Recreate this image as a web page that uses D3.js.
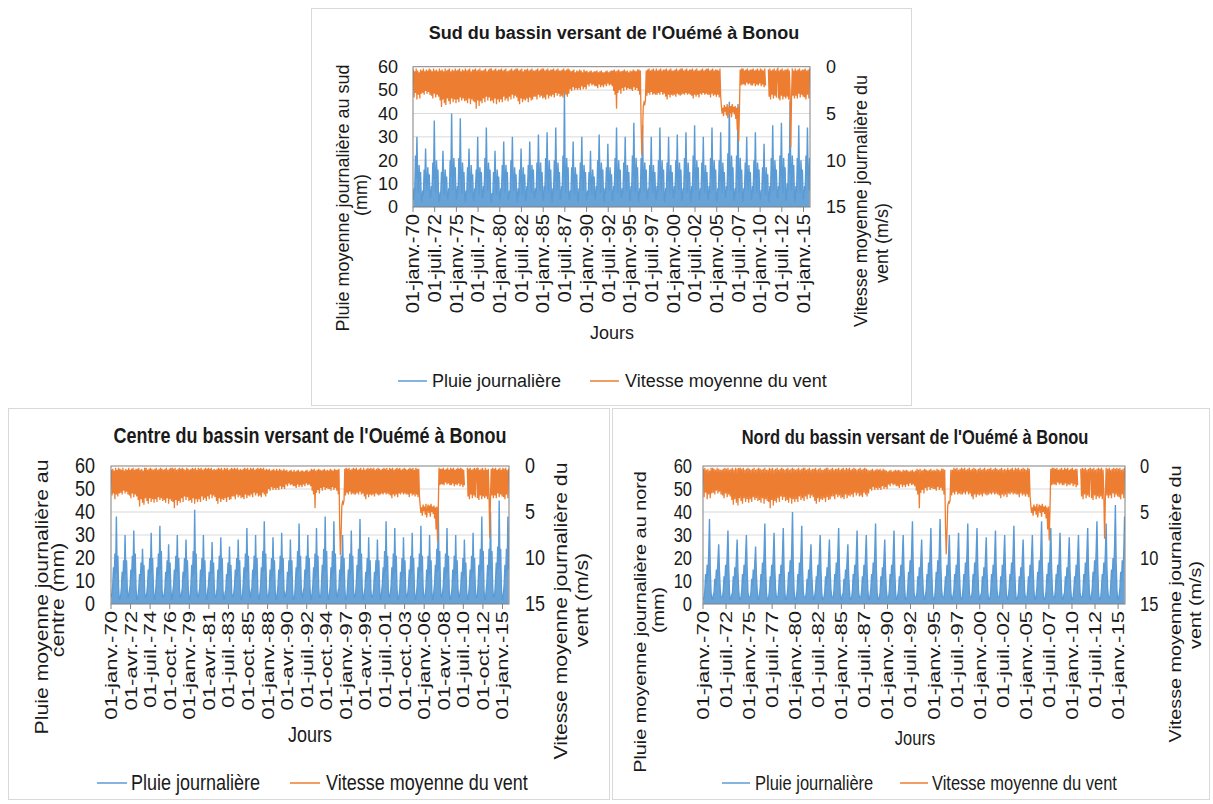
<!DOCTYPE html>
<html><head><meta charset="utf-8">
<script src="https://cdn.jsdelivr.net/npm/d3@7"></script>
<style>
body{margin:0;background:#fff;}
text{font-family:"Liberation Sans",Arial,sans-serif;fill:#1a1a1a;}
</style>
</head><body>
<svg id="c" width="1213" height="804"></svg>
<script>
// ---------- DATA (monthly readings, Jan 1970 – Sep 2015) ----------
const rainSud = [
3,8,6,22,12,30,13,6,18,11,15,3,
2,7,5,16,10,25,11,7,17,10,14,4,
4,9,7,19,12,37,12,6,20,12,16,3,
2,6,6,15,10,24,11,5,16,10,13,4,
3,8,7,20,13,40,13,7,21,13,17,3,
4,9,6,21,12,38,12,6,19,12,15,4,
2,7,6,17,11,25,11,6,18,11,14,3,
3,8,7,16,10,30,12,5,17,12,15,4,
4,9,6,21,12,34,13,7,19,11,16,3,
2,6,5,15,10,24,10,5,16,10,13,4,
3,8,7,18,11,28,12,6,18,12,15,3,
4,7,6,20,12,30,11,7,17,11,14,4,
2,8,5,16,10,25,11,5,17,10,14,3,
3,9,7,18,11,28,12,6,18,12,16,4,
4,8,6,19,12,31,13,7,19,11,15,3,
3,9,7,21,12,32,12,6,20,12,16,4,
2,8,6,20,11,34,13,7,19,11,15,3,
4,9,7,22,13,50,12,6,21,13,17,4,
3,7,6,17,10,28,11,5,17,10,14,3,
2,8,7,19,12,30,12,7,18,12,15,4,
3,7,5,15,10,24,10,5,16,10,13,3,
4,9,7,20,12,31,13,6,19,12,16,4,
2,8,6,17,11,27,11,7,17,11,14,3,
3,9,7,21,12,34,12,6,20,12,16,4,
4,8,6,19,11,30,12,7,18,11,15,3,
3,9,7,22,13,36,13,6,21,13,17,4,
2,8,6,21,12,35,12,7,19,12,16,3,
4,8,7,18,11,30,11,6,18,11,15,4,
3,9,6,20,12,34,13,7,20,12,16,3,
2,8,7,19,11,30,12,6,18,11,15,4,
4,9,6,20,12,31,12,7,19,12,16,3,
3,8,7,21,12,32,13,6,19,11,15,4,
2,9,6,22,13,35,12,7,20,12,17,3,
4,8,7,19,11,30,11,6,18,11,15,4,
3,9,6,21,12,34,13,7,20,12,16,3,
2,8,7,20,11,32,12,6,19,11,15,4,
4,9,7,23,13,45,13,7,22,13,17,3,
3,8,6,22,12,44,12,6,21,12,16,4,
2,8,7,19,11,30,12,7,18,11,15,3,
4,9,6,20,12,32,13,6,19,12,16,4,
3,7,7,17,10,27,11,5,17,10,14,3,
2,9,6,21,12,35,12,7,20,12,16,4,
4,9,7,22,13,36,13,6,21,13,17,3,
3,10,7,23,14,45,13,7,22,13,18,4,
2,9,6,21,12,35,12,6,20,12,16,3,
4,9,7,22,13,34,13,7,21];

const windSud = [
.3,3.3,.5,2.8,.2,3.5,.4,3.0,.6,3.4,.3,2.9,
.4,2.8,.2,3.0,.5,2.6,.3,2.9,.4,2.7,.2,3.0,
.3,3.1,.5,3.4,.2,2.9,.4,3.3,.3,3.0,.5,3.2,
.2,3.6,.4,4.3,.3,3.5,.5,3.9,.2,4.1,.4,3.4,
.3,3.7,.2,4.0,.5,3.4,.3,3.8,.4,3.5,.2,3.9,
.4,3.5,.3,3.8,.2,3.3,.5,3.6,.3,3.4,.4,3.7,
.2,3.6,.4,3.9,.3,3.4,.2,4.0,.5,3.5,.3,3.7,
.3,3.8,.2,4.5,.4,3.6,.3,4.2,.2,3.7,.4,3.9,
.4,3.4,.3,3.8,.2,3.2,.5,3.6,.3,3.3,.2,3.7,
.2,3.6,.4,3.9,.3,3.4,.2,4.0,.4,3.5,.3,3.8,
.3,3.5,.2,3.8,.4,3.2,.3,3.6,.2,3.4,.5,3.7,
.4,3.2,.3,3.5,.2,3.0,.4,3.4,.3,3.1,.2,3.3,
.2,3.7,.4,4.0,.3,3.4,.2,3.8,.5,3.5,.3,3.6,
.3,3.4,.2,3.8,.4,3.3,.3,3.6,.2,3.5,.4,3.2,
.4,3.2,.3,3.5,.2,3.0,.4,3.3,.3,3.1,.2,3.4,
.2,3.3,.4,3.5,.3,3.0,.2,3.4,.4,3.1,.3,3.2,
.3,3.0,.2,3.3,.4,2.8,.3,3.1,.2,2.9,.4,3.2,
.4,3.1,.3,3.3,.2,2.8,.4,3.0,.3,3.2,.2,2.9,
.3,2.4,.5,2.6,.4,2.2,.3,2.5,.6,2.3,.4,2.5,
.5,2.3,.3,2.5,.4,2.1,.6,2.4,.3,2.2,.5,2.4,
.4,1.9,.6,2.1,.5,1.8,.4,2.0,.6,1.9,.5,2.1,
.5,2.1,.4,2.3,.6,1.9,.5,2.2,.4,2.0,.6,2.2,
.6,1.9,.5,2.1,.4,1.8,.6,2.0,.5,1.9,.4,2.1,
.4,2.6,.3,3.0,.5,4.5,.4,2.8,.3,2.5,.5,2.9,
.5,2.3,.4,2.6,.3,2.2,.5,2.5,.4,2.3,.6,2.4,
.4,2.4,.5,2.6,.3,2.2,.4,2.5,.5,2.3,.3,2.6,
.3,3.0,.4,6.2,9.5,7.0,4.2,3.8,4.0,3.6,.4,3.1,
.3,2.8,.2,3.0,.4,2.7,.3,3.0,.2,2.9,.4,3.0,
.2,3.0,.4,2.8,.3,3.0,.2,2.7,.4,3.0,.3,2.9,
.3,3.2,.2,3.5,.4,3.0,.3,3.3,.2,3.0,.4,3.1,
.4,3.0,.3,3.2,.2,2.9,.4,3.0,.3,3.1,.2,3.0,
.2,2.9,.4,3.0,.3,2.8,.2,3.0,.4,2.9,.3,3.0,
.3,3.1,.2,3.4,.4,3.0,.3,3.2,.2,3.0,.4,3.3,
.4,2.9,.3,3.0,.2,2.8,.4,3.0,.3,2.9,.2,3.0,
.2,3.0,.4,3.3,.3,2.9,.2,3.1,.4,3.0,.3,3.2,
.3,3.0,.4,3.3,.2,3.1,4.2,5.0,4.4,5.3,4.1,4.8,
4.3,5.2,4.0,5.5,4.6,4.1,5.0,4.2,5.4,4.0,4.9,4.3,
5.1,4.2,5.6,4.4,6.8,4.3,8.0,4.5,.3,2.0,.2,1.9,
.2,1.9,.4,2.0,.3,1.7,.2,1.9,.4,1.8,.3,2.0,
.3,2.0,.2,1.8,.4,2.1,.3,1.9,.2,2.0,.4,1.8,
.2,2.1,.3,1.9,.4,2.2,.2,2.0,null,null,null,.3,
3.2,.2,3.5,.4,3.0,.3,3.4,.2,3.1,.4,3.3,.3,
.2,3.4,.4,3.6,.3,3.1,.2,3.5,.4,3.2,.3,3.4,
.3,3.2,.2,3.5,.4,3.0,8.6,3.3,.2,3.1,.4,3.4,
.2,3.1,.4,3.4,.3,2.9,.2,3.3,.4,3.0,.3,3.2,
.3,3.3,.2,3.5,.4,3.0,.3,3.4,.2];

const rainCentre = [
3,5,8,16,11,22,13,38,14,21,7,2,
2,4,7,14,10,19,12,30,13,19,6,3,
3,6,8,15,11,21,14,32,13,22,7,2,
2,4,7,13,10,18,12,24,14,17,5,3,
3,5,8,15,11,20,13,31,14,20,7,2,
2,5,9,16,12,22,13,34,15,23,6,3,
3,4,7,14,10,19,12,26,13,18,7,2,
2,6,8,15,11,21,14,30,13,20,6,3,
3,5,7,14,11,20,12,28,14,19,7,2,
2,4,9,17,12,23,13,41,15,22,6,3,
3,5,7,15,10,20,12,30,14,19,6,2,
2,6,8,14,10,19,13,27,13,18,7,3,
3,4,7,15,11,21,13,29,14,20,6,2,
2,5,6,13,10,18,12,25,12,17,5,3,
3,5,8,15,11,20,12,28,14,19,7,2,
2,4,9,16,11,22,14,33,14,21,7,3,
3,6,7,15,10,21,12,30,13,20,6,2,
2,5,8,16,12,23,14,36,15,22,7,3,
3,4,7,15,10,20,12,29,14,19,6,2,
2,5,8,15,11,21,13,31,14,20,7,3,
3,5,6,14,10,19,12,28,13,19,6,2,
2,4,9,16,12,23,14,35,15,21,6,3,
3,6,7,15,11,21,13,30,14,20,7,2,
2,5,8,16,11,22,12,33,14,21,7,3,
3,4,9,17,12,24,14,38,15,23,6,2,
2,5,8,16,11,23,13,36,14,22,6,3,
3,6,7,15,10,21,12,30,13,20,7,2,
2,4,8,15,11,22,13,32,14,21,6,3,
3,5,9,17,12,24,14,37,15,22,7,2,
2,5,7,14,10,20,12,29,13,19,6,3,
3,4,7,14,10,19,12,28,13,19,7,2,
2,6,9,16,12,23,14,36,15,21,6,3,
3,5,8,16,11,22,13,33,14,21,7,2,
2,4,7,14,10,20,12,29,13,19,6,3,
3,5,8,15,11,21,13,31,14,20,6,2,
2,5,8,16,11,22,14,34,14,21,7,3,
3,4,7,15,10,21,12,30,13,19,6,2,
2,6,9,17,12,24,14,42,15,23,7,3,
3,5,8,16,11,22,13,33,14,21,6,2,
2,4,7,15,10,21,12,30,13,19,7,3,
3,5,7,14,10,20,12,28,13,18,6,2,
2,5,8,15,11,21,13,31,14,20,7,3,
3,4,9,17,12,24,14,38,15,23,6,2,
2,6,9,17,12,24,15,40,15,23,7,3,
3,5,10,18,13,25,15,45,16,24,7,2,
2,5,9,17,12,24,14,38,15];

const windCentre = [
.4,3.2,.3,3.0,.5,3.6,.2,3.1,.4,3.3,.2,3.0,
.3,2.9,.4,3.1,.2,2.7,.5,3.0,.3,2.8,.4,3.1,
.2,3.2,.4,3.5,.3,3.0,.2,3.4,.4,3.1,.3,3.3,
.3,3.7,.2,4.4,.4,3.6,.3,4.0,.5,4.2,.2,3.5,
.2,3.8,.4,4.1,.3,3.5,.2,3.9,.3,3.6,.4,4.0,
.3,3.6,.2,3.9,.4,3.4,.3,3.7,.2,3.5,.3,3.8,
.4,3.7,.3,4.0,.2,3.5,.4,4.1,.3,3.6,.2,3.8,
.2,3.9,.3,4.6,.2,3.7,.4,4.3,.3,3.8,.2,4.0,
.3,3.5,.2,3.9,.3,3.3,.4,3.7,.2,3.4,.3,3.8,
.4,3.7,.3,4.0,.2,3.5,.3,4.1,.2,3.6,.4,3.9,
.2,3.6,.3,3.9,.2,3.3,.4,3.7,.3,3.5,.2,3.8,
.3,3.3,.2,3.6,.3,3.1,.2,3.5,.4,3.2,.3,3.4,
.4,3.8,.3,4.1,.2,3.5,.3,3.9,.2,3.6,.4,3.7,
.2,3.5,.3,3.9,.2,3.4,.4,3.7,.3,3.6,.2,3.3,
.3,3.3,.2,3.6,.3,3.1,.2,3.4,.4,3.2,.3,3.5,
.4,3.4,.3,3.6,.2,3.1,.3,3.5,.2,3.2,.4,3.3,
.2,3.1,.3,3.4,.2,2.9,.4,3.2,.3,3.0,.2,3.3,
.3,3.2,.2,3.4,.3,2.9,.2,3.1,.4,3.3,.3,3.0,
.4,2.5,.3,2.7,.5,2.3,.4,2.6,.3,2.4,.5,2.6,
.3,2.4,.5,2.6,.3,2.2,.4,2.5,.5,2.3,.3,2.5,
.5,2.0,.4,2.2,.6,1.9,.5,2.1,.4,2.0,.6,2.2,
.4,2.2,.6,2.4,.5,2.0,.4,2.3,.6,2.1,.5,2.3,
.5,2.0,.6,2.2,.5,1.9,.4,2.1,.6,2.0,.5,2.2,
.3,2.7,.4,3.1,.3,4.6,.5,2.9,.4,2.6,.3,3.0,
.4,2.4,.5,2.7,.4,2.3,.3,2.6,.5,2.4,.4,2.5,
.5,2.5,.3,2.7,.4,2.3,.5,2.6,.3,2.4,.4,2.7,
.4,3.1,.3,6.5,9.7,7.2,4.3,3.9,4.1,3.7,.3,3.2,
.2,2.9,.3,3.1,.2,2.8,.4,3.1,.3,3.0,.2,3.1,
.3,3.1,.2,2.9,.4,3.1,.3,2.8,.2,3.1,.4,3.0,
.2,3.3,.4,3.6,.3,3.1,.2,3.4,.3,3.1,.2,3.2,
.3,3.1,.2,3.3,.4,3.0,.3,3.1,.2,3.2,.3,3.1,
.4,3.0,.3,3.1,.2,2.9,.3,3.1,.2,3.0,.4,3.1,
.2,3.2,.3,3.5,.2,3.1,.4,3.3,.3,3.1,.2,3.4,
.3,3.0,.2,3.1,.4,2.9,.3,3.1,.2,3.0,.3,3.1,
.4,3.1,.3,3.4,.2,3.0,.3,3.2,.2,3.1,.4,3.3,
.2,3.1,.3,3.4,.3,3.2,4.3,5.1,4.5,5.4,4.2,4.9,
4.4,5.3,4.1,5.6,4.7,4.2,5.1,4.3,5.5,4.1,5.0,4.4,
5.2,4.3,5.7,4.5,6.9,4.4,8.2,4.6,.2,2.1,.3,2.0,
.3,2.0,.2,2.1,.4,1.8,.3,2.0,.2,1.9,.4,2.1,
.2,2.1,.3,1.9,.2,2.2,.4,2.0,.3,2.1,.2,1.9,
.3,2.2,.2,2.0,.3,2.3,.4,2.1,null,null,null,.2,
3.3,.3,3.6,.2,3.1,.4,3.5,.3,3.2,.2,3.4,.4,
.3,3.5,.2,3.7,.4,3.2,.3,3.6,.2,3.3,.4,3.5,
.2,3.3,.4,3.6,.3,3.1,7.8,3.4,.3,3.2,.2,3.5,
.3,3.2,.2,3.5,.4,3.0,.3,3.4,.2,3.1,.4,3.3,
.2,3.4,.3,3.6,.2,3.1,.4,3.5,.3];

const rainNord = [
2,3,6,13,9,17,12,22,37,15,5,2,
2,4,5,11,8,15,11,19,26,14,6,3,
3,3,6,12,9,17,12,21,32,16,5,2,
2,4,5,12,8,16,11,20,28,14,6,2,
2,3,6,13,9,17,12,21,30,15,5,3,
3,3,5,11,8,15,10,18,25,13,6,2,
2,4,7,13,10,18,13,22,35,16,5,2,
2,3,6,12,9,17,12,21,31,15,6,3,
3,3,6,13,9,17,12,22,33,15,5,2,
2,4,7,14,10,19,13,23,40,17,6,2,
2,3,6,13,9,18,12,22,34,16,5,3,
3,3,5,11,8,15,11,19,26,13,6,2,
2,4,6,12,9,17,12,21,30,15,5,2,
2,3,5,12,8,16,11,20,28,14,6,3,
3,3,6,13,10,18,12,22,33,16,5,2,
2,4,5,11,8,15,11,19,26,13,6,2,
2,3,6,13,9,17,12,21,32,15,5,3,
3,3,6,12,9,17,12,21,30,15,6,2,
2,4,7,13,10,18,13,22,35,16,5,2,
2,3,5,12,8,16,11,20,28,14,6,3,
3,3,6,13,9,17,12,21,32,15,5,2,
2,4,6,12,9,17,12,21,30,15,6,2,
2,3,7,14,10,19,13,23,36,17,5,3,
3,3,5,12,8,16,11,20,28,14,6,2,
2,4,6,13,9,18,12,22,33,16,5,2,
2,3,7,14,10,19,13,23,37,17,6,3,
3,3,6,12,9,17,12,21,30,15,5,2,
2,4,6,13,9,17,12,21,31,15,6,2,
2,3,7,13,10,18,13,22,35,16,5,3,
3,3,6,13,9,18,12,22,33,16,6,2,
2,4,5,12,8,16,11,20,29,14,5,2,
2,3,6,13,9,17,12,21,32,15,6,3,
3,3,6,12,9,17,12,21,30,15,5,2,
2,4,7,13,10,18,13,22,34,16,6,2,
2,3,5,12,8,16,11,20,28,14,5,3,
3,3,6,12,9,17,12,21,30,15,6,2,
2,4,7,14,10,19,13,23,36,17,5,2,
2,3,6,13,9,18,12,22,33,16,6,3,
3,3,6,13,9,17,12,21,31,15,5,2,
2,4,5,12,8,16,11,20,29,14,6,2,
2,3,6,12,9,17,12,21,30,15,5,3,
3,3,6,13,9,18,12,22,33,16,6,2,
2,4,7,14,10,19,13,23,36,17,5,2,
2,3,7,13,10,18,13,22,35,16,6,3,
3,3,8,15,11,20,14,25,43,18,6,2,
2,4,7,14,10,19,13,23,38];

const windNord = [
.3,3.4,.2,2.9,.4,3.6,.3,3.1,.5,3.5,.2,3.0,
.2,2.9,.3,3.1,.4,2.7,.2,3.0,.3,2.8,.4,3.1,
.4,3.2,.3,3.5,.2,3.0,.3,3.4,.2,3.1,.4,3.3,
.3,3.7,.2,4.2,.4,3.6,.2,4.0,.3,4.3,.2,3.5,
.2,3.8,.3,4.1,.2,3.5,.4,3.9,.3,3.6,.2,4.0,
.3,3.6,.4,3.9,.3,3.4,.2,3.7,.4,3.5,.3,3.8,
.2,3.7,.3,4.0,.4,3.5,.3,4.1,.2,3.6,.4,3.8,
.4,3.9,.2,4.6,.3,3.7,.2,4.3,.4,3.8,.3,4.0,
.2,3.5,.4,3.9,.3,3.3,.2,3.7,.3,3.4,.4,3.8,
.3,3.7,.2,4.0,.4,3.5,.3,4.1,.2,3.6,.3,3.9,
.4,3.6,.3,3.9,.2,3.3,.4,3.7,.3,3.5,.2,3.8,
.2,3.3,.4,3.6,.3,3.1,.2,3.5,.4,3.2,.3,3.4,
.3,3.8,.2,4.1,.4,3.5,.3,3.9,.2,3.6,.4,3.7,
.4,3.5,.3,3.9,.2,3.4,.2,3.7,.4,3.6,.3,3.3,
.2,3.3,.4,3.6,.3,3.1,.3,3.4,.2,3.2,.4,3.5,
.3,3.4,.2,3.6,.4,3.1,.2,3.5,.3,3.2,.2,3.3,
.4,3.1,.3,3.4,.2,2.9,.3,3.2,.4,3.0,.3,3.3,
.2,3.2,.4,3.4,.3,2.9,.2,3.1,.3,3.3,.4,3.0,
.5,2.5,.4,2.7,.3,2.3,.5,2.6,.4,2.4,.3,2.6,
.4,2.4,.3,2.6,.5,2.2,.3,2.5,.4,2.3,.5,2.5,
.6,2.0,.5,2.2,.4,1.9,.6,2.1,.5,2.0,.4,2.2,
.5,2.2,.4,2.4,.5,2.0,.6,2.3,.4,2.1,.5,2.3,
.4,2.0,.5,2.2,.6,1.9,.5,2.1,.4,2.0,.6,2.2,
.5,2.7,.3,3.1,.4,4.6,.3,2.9,.5,2.6,.4,3.0,
.3,2.4,.4,2.7,.5,2.3,.4,2.6,.3,2.4,.5,2.5,
.4,2.5,.5,2.7,.3,2.3,.4,2.6,.5,2.4,.3,2.7,
.3,3.1,.4,6.4,9.6,7.1,4.3,3.9,4.0,3.7,.4,3.2,
.4,2.9,.2,3.1,.3,2.8,.2,3.1,.4,3.0,.3,3.1,
.2,3.1,.3,2.9,.2,3.1,.4,2.8,.3,3.1,.2,3.0,
.4,3.3,.3,3.6,.2,3.1,.3,3.4,.4,3.1,.3,3.2,
.2,3.1,.4,3.3,.3,3.0,.2,3.1,.4,3.2,.3,3.1,
.3,3.0,.2,3.1,.4,2.9,.3,3.1,.2,3.0,.3,3.1,
.4,3.2,.3,3.5,.2,3.1,.4,3.3,.3,3.1,.4,3.4,
.2,3.0,.4,3.1,.3,2.9,.2,3.1,.4,3.0,.2,3.1,
.3,3.1,.2,3.4,.4,3.0,.3,3.2,.2,3.1,.3,3.3,
.4,3.1,.2,3.4,.3,3.2,4.3,5.1,4.5,5.4,4.2,4.9,
4.4,5.3,4.1,5.6,4.7,4.2,5.1,4.3,5.5,4.1,5.0,4.4,
5.2,4.3,5.7,4.5,6.9,4.4,8.1,4.6,.3,2.1,.2,2.0,
.2,2.0,.3,2.1,.2,1.8,.4,2.0,.3,1.9,.2,2.1,
.4,2.1,.2,1.9,.3,2.2,.2,2.0,.4,2.1,.3,1.9,
.2,2.2,.4,2.0,.3,2.3,.3,2.1,null,null,null,.3,
3.3,.2,3.6,.3,3.1,.2,3.5,.4,3.2,.3,3.4,.2,
.4,3.5,.3,3.7,.2,3.2,.4,3.6,.3,3.3,.2,3.5,
.3,3.3,.2,3.6,.4,3.1,7.9,3.4,.2,3.2,.3,3.5,
.2,3.2,.4,3.5,.3,3.0,.2,3.4,.3,3.1,.2,3.3,
.3,3.4,.2,3.6,.4,3.1,.3,3.5,.2];

const ticksSud = ["01-janv.-70","01-juil.-72","01-janv.-75","01-juil.-77","01-janv.-80","01-juil.-82","01-janv.-85","01-juil.-87","01-janv.-90","01-juil.-92","01-janv.-95","01-juil.-97","01-janv.-00","01-juil.-02","01-janv.-05","01-juil.-07","01-janv.-10","01-juil.-12","01-janv.-15"];
const ticksCentre = ["01-janv.-70","01-avr.-72","01-juil.-74","01-oct.-76","01-janv.-79","01-avr.-81","01-juil.-83","01-oct.-85","01-janv.-88","01-avr.-90","01-juil.-92","01-oct.-94","01-janv.-97","01-avr.-99","01-juil.-01","01-oct.-03","01-janv.-06","01-avr.-08","01-juil.-10","01-oct.-12","01-janv.-15"];
const ticksNord = ["01-janv.-70","01-juil.-72","01-janv.-75","01-juil.-77","01-janv.-80","01-juil.-82","01-janv.-85","01-juil.-87","01-janv.-90","01-juil.-92","01-janv.-95","01-juil.-97","01-janv.-00","01-juil.-02","01-janv.-05","01-juil.-07","01-janv.-10","01-juil.-12","01-janv.-15"];
const rainTicks = [0,10,20,30,40,50,60];
const windTicks = [0,5,10,15];
const seriesNames = ["Pluie journalière","Vitesse moyenne du vent"];

// ---------- RENDERING ----------
const BLUE = "#5B9BD5", ORANGE = "#ED7D31";
const monthIdx = {"janv.":0,"févr.":1,"mars":2,"avr.":3,"mai":4,"juin":5,"juil.":6,"août":7,"sept.":8,"oct.":9,"nov.":10,"déc.":11};
function parseLabel(s){const p=s.split("-");const yy=+p[2];return new Date(yy<50?2000+yy:1900+yy,monthIdx[p[1]],+p[0]);}
const dateOf = i => new Date(1970, i, 15);
const x0 = new Date(1970,0,1), x1 = new Date(2015,9,1);

const svg = d3.select("#c");

function T(g, x, y, s, o={}){
  const t = g.append("text").text(s)
    .attr("font-size", o.fs||18)
    .attr("text-anchor", o.anchor||"middle")
    .attr("dy", o.dy!=null?o.dy:"0.35em");
  if(o.bold) t.attr("font-weight","bold");
  const sy = o.sy||1;
  t.attr("transform", `translate(${x},${y}) scale(1,${sy})` + (o.rot?` rotate(${o.rot})`:""));
  return t;
}

const panels = [
 {frame:[311.5,8.5,600,397], plot:{l:413,r:810,t:66.7,b:207},
  title:"Sud du bassin versant de l'Ouémé à Bonou", tx:614, ty:33,
  rain:rainSud, wind:windSud, ticks:ticksSud, fs:18, sy:1, xfs:18, xsy:1.12, xlabTop:214,
  leftTicksX:398, rightTicksX:826, jours:[612,333],
  lt:[["Pluie moyenne journalière  au sud",343,198],["(mm)",361,195]],
  rt:[["Vitesse moyenne journalière du",861,201],["vent (m/s)",882,243]],
  leg:{y:381, b:[398,427], bt:432, o:[590,619], ot:625}},
 {frame:[8.5,408.5,601,391], plot:{l:111,r:509,t:466,b:604},
  title:"Centre du bassin versant de l'Ouémé à Bonou", tx:310, ty:436,
  rain:rainCentre, wind:windCentre, ticks:ticksCentre, fs:18, sy:1.18, xfs:17, xsy:1.3, xlabTop:611,
  leftTicksX:95, rightTicksX:525, jours:[310,735],
  lt:[["Pluie moyenne journalière  au",42,597],["centre (mm)",58,600]],
  rt:[["Vitesse moyenne journalière du",561,611],["vent (m/s)",582,600]],
  leg:{y:783, b:[97,127], bt:131, o:[290,320], ot:326}},
 {frame:[612.5,408.5,597,391], plot:{l:703,r:1125,t:466,b:604},
  title:"Nord du bassin versant de l'Ouémé à Bonou", tx:915, ty:437,
  rain:rainNord, wind:windNord, ticks:ticksNord, fs:16.5, sy:1.2, xfs:17, xsy:1.3, xlabTop:611,
  leftTicksX:692, rightTicksX:1140, jours:[915,738],
  lt:[["Pluie moyenne journalière  au nord",640,622],["(mm)",658,610]],
  rt:[["Vitesse moyenne journalière du",1175,604],["vent  (m/s)",1195,605]],
  leg:{y:783, b:[722,750], bt:755, o:[900,928], ot:932}}
];

panels.forEach((P, k) => {
  const g = svg.append("g");
  g.append("rect").attr("x",P.frame[0]).attr("y",P.frame[1]).attr("width",P.frame[2]).attr("height",P.frame[3])
   .attr("fill","#fff").attr("stroke","#d9d9d9");
  const p = P.plot;
  const x = d3.scaleTime().domain([x0,x1]).range([p.l,p.r]);
  const yL = d3.scaleLinear().domain([0,60]).range([p.b,p.t]);
  const yR = d3.scaleLinear().domain([15,0]).range([p.b,p.t]);

  g.selectAll(".grid").data(rainTicks.slice(1,-1)).join("line")
   .attr("x1",p.l).attr("x2",p.r).attr("y1",d=>yL(d)).attr("y2",d=>yL(d))
   .attr("stroke","#d9d9d9").attr("stroke-width",1);

  const cid = "clip"+k;
  g.append("clipPath").attr("id",cid).append("rect").attr("x",p.l).attr("y",p.t).attr("width",p.r-p.l).attr("height",p.b-p.t);
  const plotG = g.append("g").attr("clip-path",`url(#${cid})`);

  const area = d3.area().x((d,i)=>x(dateOf(i))).y0(yL(0)).y1(d=>yL(d));
  const lineR = d3.line().x((d,i)=>x(dateOf(i))).y(d=>yL(d));
  plotG.append("path").attr("d",area(P.rain)).attr("fill",BLUE).attr("opacity",0.92);
  plotG.append("path").attr("d",lineR(P.rain)).attr("fill","none").attr("stroke",BLUE).attr("stroke-width",1.4);

  const lineW = d3.line().defined(d=>d!=null).x((d,i)=>x(dateOf(i))).y(d=>yR(d));
  plotG.append("path").attr("d",lineW(P.wind)).attr("fill","none").attr("stroke",ORANGE).attr("stroke-width",1.3);

  g.append("rect").attr("x",p.l).attr("y",p.t).attr("width",p.r-p.l).attr("height",p.b-p.t)
   .attr("fill","none").attr("stroke","#808080").attr("stroke-width",1);

  P.ticks.forEach(s => {
    const xx = x(parseLabel(s));
    g.append("line").attr("x1",xx).attr("x2",xx).attr("y1",p.b).attr("y2",p.b+5).attr("stroke","#808080");
    T(g, xx, P.xlabTop, s, {fs:P.xfs, sy:P.xsy, rot:-90, anchor:"end"});
  });
  rainTicks.forEach(v => T(g, P.leftTicksX, yL(v), String(v), {fs:P.fs, sy:P.sy, anchor:"end"}));
  windTicks.forEach(v => T(g, P.rightTicksX, yR(v), String(v), {fs:P.fs, sy:P.sy, anchor:"start"}));

  T(g, P.tx, P.ty, P.title, {fs:P.fs, sy:P.sy, bold:true});
  T(g, P.jours[0], P.jours[1], "Jours", {fs:P.fs, sy:P.sy});
  P.lt.forEach(([s,xx,yy]) => T(g, xx, yy, s, {fs:P.fs, sy:P.sy, rot:-90}));
  P.rt.forEach(([s,xx,yy]) => T(g, xx, yy, s, {fs:P.fs, sy:P.sy, rot:-90}));

  const L = P.leg;
  g.append("line").attr("x1",L.b[0]).attr("x2",L.b[1]).attr("y1",L.y).attr("y2",L.y).attr("stroke",BLUE).attr("stroke-width",1.5);
  T(g, L.bt, L.y, seriesNames[0], {fs:P.fs, sy:P.sy, anchor:"start"});
  g.append("line").attr("x1",L.o[0]).attr("x2",L.o[1]).attr("y1",L.y).attr("y2",L.y).attr("stroke",ORANGE).attr("stroke-width",1.5);
  T(g, L.ot, L.y, seriesNames[1], {fs:P.fs, sy:P.sy, anchor:"start"});
});
</script>
</body></html>
